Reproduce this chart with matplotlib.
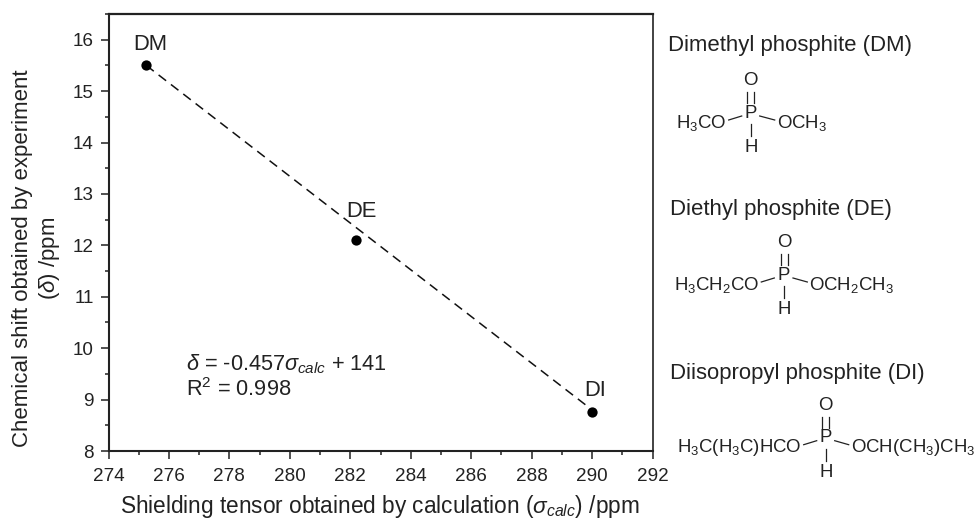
import matplotlib
matplotlib.use("Agg")
import matplotlib.pyplot as plt
from matplotlib.lines import Line2D
from matplotlib.ticker import MultipleLocator
from matplotlib.transforms import Affine2D

plt.rcParams['font.family'] = ['Liberation Sans', 'DejaVu Sans']
plt.rcParams['mathtext.fontset'] = 'custom'
plt.rcParams['mathtext.rm'] = 'Liberation Sans'
plt.rcParams['mathtext.it'] = 'Liberation Sans:italic'
plt.rcParams['mathtext.bf'] = 'Liberation Sans:bold'
plt.rcParams['mathtext.default'] = 'rm'

W, H = 976, 519
TXT = '#222222'

shielding = [275.25, 282.2, 290.0]
shift = [15.5, 12.1, 8.76]
labels = ['DM', 'DE', 'DI']
fit_x = [275.25, 290.0]
fit_y = [15.5, 8.8]
x_ticks = list(range(274, 293, 2))
y_ticks = list(range(8, 17))
names = ['Dimethyl phosphite (DM)', 'Diethyl phosphite (DE)', 'Diisopropyl phosphite (DI)']
left_groups = ['H$_3$CO', 'H$_3$CH$_2$CO', 'H$_3$C(H$_3$C)HCO']
right_groups = ['OCH$_3$', 'OCH$_2$CH$_3$', 'OCH(CH$_3$)CH$_3$']

fig = plt.figure(figsize=(W / 100, H / 100), dpi=100)
L, R, T, B = 108.5, 652.5, 14, 451
ax = fig.add_axes([L / W, 1 - B / H, (R - L) / W, (B - T) / H])
ax.set_xlim(274, 292)
ax.set_ylim(8, 16.5)
ax.plot(fit_x, fit_y, color='#111111', lw=1.1, dashes=(6.2, 4.0), zorder=2)
ax.plot(shielding, shift, 'o', color='black', ms=7.4, mew=0, zorder=3, clip_on=False)

label_offsets = [(0.12, 0.40), (0.17, 0.56), (0.10, 0.42)]
for xv, yv, s, off in zip(shielding, shift, labels, label_offsets):
    ax.text(xv + off[0], yv + off[1], s, fontsize=15.8, color=TXT, ha='center', va='center')

ax.set_xticks(x_ticks)
ax.set_yticks(y_ticks)
ax.xaxis.set_minor_locator(MultipleLocator(1))
ax.yaxis.set_minor_locator(MultipleLocator(0.5))
ax.tick_params(which='major', length=5.7, width=1.1, labelsize=13.6, labelcolor=TXT, pad=5, color='#222222')
ax.tick_params(which='minor', length=3, width=1.1, color='#222222')
ax.tick_params(axis='x', which='major', pad=6.5)
for s in ax.spines.values():
    s.set_linewidth(1.2)
    s.set_color('#222222')
ax.spines['top'].set_linewidth(1.6)
ax.spines['left'].set_linewidth(1.5)
ax.spines['bottom'].set_linewidth(1.5)

px = Affine2D().scale(1, -1).translate(0, H)


def t(x, y, s, size=13.4, ha='left', va='center', **kw):
    fig.text(x, y, s, transform=px, fontsize=size, ha=ha, va=va, color=TXT, **kw)


def seg(x0, y0, x1, y1, lw=0.9):
    fig.add_artist(Line2D([x0, x1], [y0, y1], transform=px, color='#222222', lw=lw))


t(120.5, 507, r'Shielding tensor obtained by calculation ($\mathit{\sigma}_{\mathit{calc}}$) /ppm', size=16.25)
t(23, 258, 'Chemical shift obtained by experiment', size=16, ha='center', rotation=90)
t(50, 258, r'($\mathit{\delta}$) /ppm', size=16, ha='center', rotation=90)
t(186, 364, r'$\mathit{\delta}$ = -0.457$\mathit{\sigma}_{\mathit{calc}}$ + 141', size=15.7)
t(186, 390, r'R$^2$ = 0.998', size=15.7)

t(667.5, 46, names[0], size=15.9)
t(669.5, 210, names[1], size=15.9)
t(669.5, 374, names[2], size=15.9)

# structure layout in pixels: P x, P y, left group right edge, right group left edge
structs = [(750.7, 113, 726.7, 776.7), (784, 275, 759.3, 809.3), (825.7, 437.7, 801.7, 850.7)]
for (xp, yp, lx, rx), lg, rg in zip(structs, left_groups, right_groups):
    t(xp, yp, 'P', ha='center')
    t(xp, yp - 32.5, 'O', ha='center')
    t(xp, yp + 34.5, 'H', ha='center')
    t(lx, yp + 10, lg, ha='right')
    t(rx, yp + 10, rg, ha='left')
    seg(xp - 3.5, yp - 21, xp - 3.5, yp - 10)
    seg(xp + 3.5, yp - 21, xp + 3.5, yp - 10)
    seg(xp, yp + 11, xp, yp + 23)
    seg(lx + 2, yp + 7, lx + 15, yp + 3)
    seg(xp + 9, yp + 3, rx - 2, yp + 7)

fig.savefig('out.png', dpi=100)
